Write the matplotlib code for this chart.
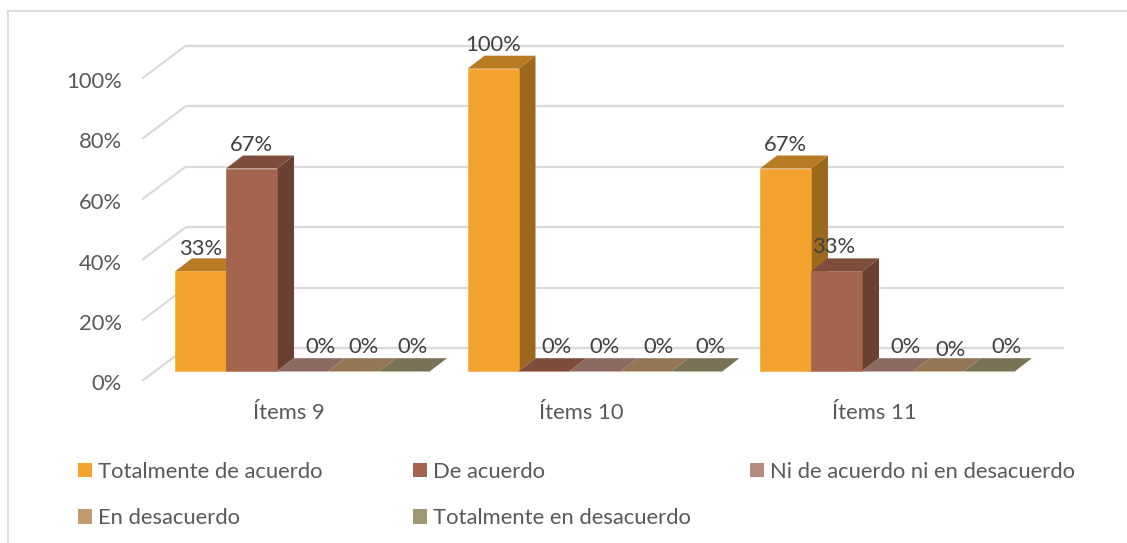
import matplotlib
matplotlib.use("Agg")
import matplotlib.pyplot as plt
from matplotlib.patches import Polygon, Patch
from matplotlib.lines import Line2D
from matplotlib.transforms import ScaledTranslation

categories = ["Ítems 9", "Ítems 10", "Ítems 11"]
series_names = ["Totalmente de acuerdo", "De acuerdo", "Ni de acuerdo ni en desacuerdo",
                "En desacuerdo", "Totalmente en desacuerdo"]
totalmente_de_acuerdo = [33, 100, 67]
de_acuerdo = [67, 0, 33]
ni_ni = [0, 0, 0]
en_desacuerdo = [0, 0, 0]
totalmente_en_desacuerdo = [0, 0, 0]
series_values = [totalmente_de_acuerdo, de_acuerdo, ni_ni, en_desacuerdo, totalmente_en_desacuerdo]
y_ticks = [0, 20, 40, 60, 80, 100]
colors = ["#F3A22D", "#A5644E", "#B58B80", "#C39A6F", "#A09671"]

W, H = 1127, 543
FS = 15.8
plt.rcParams['font.family'] = ['Lato', 'DejaVu Sans']
fig = plt.figure(figsize=(W / 100, H / 100), dpi=100, facecolor="white")

# plot frame in pixels
L, R, B, T = 142, 1064, 381, 78.5
ax = fig.add_axes([L / W, 1 - B / H, (R - L) / W, (B - T) / H])
PX_X = 292.5           # pixels per category
PX_Y = (B - T) / 100   # pixels per percent
X0 = 302.5             # pixel of first group's centre
ax.set_xlim((L - X0) / PX_X, (R - X0) / PX_X)
ax.set_ylim(0, 100)
for s in ax.spines.values():
    s.set_visible(False)
ax.patch.set_visible(False)


def fx(px):
    return px / PX_X


def fy(px):
    return px / PX_Y


bar_w = fx(51)
base = fy(9.8)
dep_x, dep_y = fx(17), fy(13)
wall_x, wall_y = fx(44), fy(33)
GRID = "#DADADA"

for v in y_ticks:
    ax.plot([ax.get_xlim()[0], ax.get_xlim()[0] + wall_x], [v, v + wall_y],
            color=GRID, lw=1.6, zorder=1, clip_on=False, solid_capstyle="butt")
    ax.plot([ax.get_xlim()[0] + wall_x, ax.get_xlim()[1]], [v + wall_y, v + wall_y],
            color=GRID, lw=1.6, zorder=1, clip_on=False, solid_capstyle="butt")


def shade(c, k):
    r, g, b = matplotlib.colors.to_rgb(c)
    return (r * k, g * k, b * k)


label_dx = [[0, 0, 18, 10, 8], [0, 13, 10, 12, 14], [0, -3, 18, 12, 17]]
label_dy = [[-2, 0, 0, 0, 0], [0, 0, 0, 0, 0], [0, 0, 0, -3, 0]]

z = 2
for g in range(len(categories)):
    for i, vals in enumerate(series_values):
        v = vals[g]
        x_left = g + (i - 2.5) * bar_w
        x_right = x_left + bar_w
        top = base + v
        c = colors[i]
        ax.bar(x_left, v, width=bar_w, bottom=base, align="edge", color=c,
               edgecolor=c, linewidth=0.4, zorder=z + 0.2, clip_on=False)
        ax.add_patch(Polygon([(x_left, top), (x_right, top), (x_right + dep_x, top + dep_y),
                              (x_left + dep_x, top + dep_y)], closed=True, fc=shade(c, 0.76),
                             ec="none", zorder=z + 0.1, clip_on=False))
        if v > 0:
            ax.add_patch(Polygon([(x_right, base), (x_right + dep_x, base + dep_y),
                                  (x_right + dep_x, top + dep_y), (x_right, top)], closed=True,
                                 fc=shade(c, 0.64), ec="none", zorder=z, clip_on=False))
        z += 1
        ax.text(x_left + bar_w / 2 + fx(label_dx[g][i]), top + fy(24 + label_dy[g][i]),
                f"{v}%", ha="center", va="center", fontsize=FS, color="#404040",
                zorder=100, clip_on=False)

ax.set_yticks(y_ticks)
ax.set_yticklabels([f"{v}%" for v in y_ticks], fontsize=FS, color="#595959")
ax.tick_params(axis="y", length=0, pad=14.5)
shift = ScaledTranslation(0, -1.5 / 100, fig.dpi_scale_trans)
for t in ax.get_yticklabels():
    t.set_transform(t.get_transform() + shift)
ax.set_xticks([g + fx(-13.5) for g in range(len(categories))])
ax.set_xticklabels(categories, fontsize=FS, color="#595959")
ax.tick_params(axis="x", length=0, pad=15.5)

# legend: one block per column
cols = [([0, 3], 69), ([1, 4], 404), ([2], 741)]
sw = 14 / (FS * 100 / 72)
for idx, x in cols:
    handles = [Patch(fc=colors[i], ec="none") for i in idx]
    fig.legend(handles, [series_names[i] for i in idx], loc="upper left",
               bbox_to_anchor=(x / W, 1 - 453 / H), frameon=False, fontsize=FS,
               labelcolor="#595959", handlelength=sw, handleheight=sw, handletextpad=0.27,
               labelspacing=1.2, borderpad=0.4, borderaxespad=0)

# chart outer border (top and left only)
for xs, ys in [((7.5, 1127), (10.5, 10.5)), ((7.5, 7.5), (10.5, 543))]:
    fig.add_artist(Line2D([x / W for x in xs], [1 - y / H for y in ys], color=GRID, lw=1.3))

fig.savefig("out.png", dpi=100)
